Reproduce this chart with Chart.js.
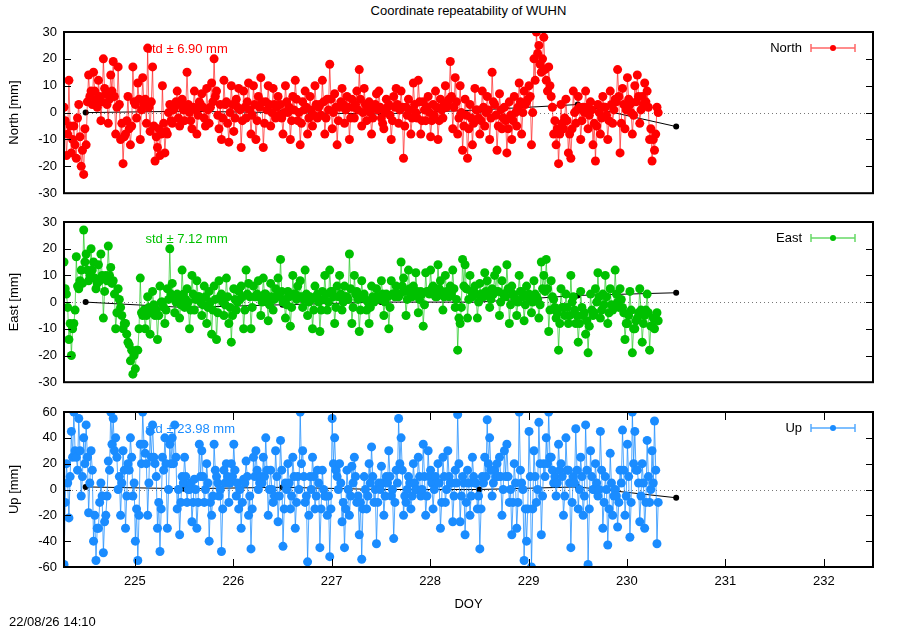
<!DOCTYPE html>
<html><head><meta charset="utf-8">
<script src="https://cdn.jsdelivr.net/npm/chart.js@4.4.0/dist/chart.umd.min.js"></script>
<style>
html,body{margin:0;padding:0;background:#fff;width:900px;height:630px;overflow:hidden;font-family:"Liberation Sans",Arial,sans-serif;color:#000;}
canvas{position:absolute;left:0;}
#title{position:absolute;left:0;width:937px;top:3px;text-align:center;font-size:13px;}
#stamp{position:absolute;left:9px;top:614px;font-size:13px;}
</style></head><body>
<div id="title">Coordinate repeatability of WUHN</div>
<canvas id="cN" width="900" height="208" style="top:0px"></canvas>
<canvas id="cE" width="900" height="197" style="top:200px"></canvas>
<canvas id="cU" width="900" height="240" style="top:390px"></canvas>
<div id="stamp">22/08/26 14:10</div>
<script>
// ---- data ----
const epochStart = 224.28;   // DOY of first epoch
const epochStep = 0.0125;    // sampling interval (day)

const northValues = [
 2,-3,-16,-8,12,-5,-15,-10, -5,-12,-17,-2,3,-9,-20,-14, -23,-6,-12,4,14,6,8,3,
 15,8,5,2,12,6,-3,4, 20,9,7,3,-4,5,14,8, 19,6,-8,2,17,3,-10,-4,
 -19,-9,-8,-3,6,-6,-12,-5, 17,4,3,-2,11,5,-10,1, 13,3,5,-4,24,2,-7,4,
 17,-5,-18,-9,-13,-6,-16,-8, 10,-4,-15,-7,-8,0,3,-3, -4,1,2,4,8,-2,-5,3,
 5,1,-3,2,15,3,0,-3, -6,2,8,1,-8,-1,4,3, 7,2,-2,-5,9,1,-4,2,
 11,4,20,6,8,-1,-6,3, -10,-2,12,3,4,-4,-11,0, 10,3,-7,-2,5,2,9,1,
 -13,-3,8,2,-2,4,11,1, -8,-1,10,3,-10,-3,6,2, 13,4,-13,-4,4,1,10,3,
 -5,0,9,3,-2,2,6,-1, 3,-2,-8,0,10,4,0,2, -10,-3,6,1,12,5,-3,0,
 -12,-4,4,1,8,2,-8,-2, 6,1,-5,-1,10,3,-2,2, 3,-1,12,4,-8,-2,5,1,
 18,5,-6,0,7,2,-12,-3, 2,4,9,3,-4,1,6,2, -10,-2,5,2,-2,3,8,1,
 16,5,-5,0,9,3,-3,1, 4,0,-8,-2,2,3,7,1, 8,2,-2,-4,-6,0,5,2,
 3,-1,-10,-3,6,2,9,3, -4,1,8,2,-17,-5,2,-1, 5,1,-8,-2,11,3,0,-2,
 12,4,-8,-3,4,1,-3,2, 6,0,-9,-3,3,-1,8,2, -10,-3,5,1,-2,3,10,2,
 4,5,19,6,-6,2,13,4, -8,-2,10,0,-14,-5,5,-1, -17,-6,3,-2,-12,-4,9,1,
 1,-2,-8,-3,8,2,-5,0, 6,1,-10,-2,15,4,3,-1, -14,-5,7,1,-6,-2,2,-3,
 -15,-6,4,-1,-10,-3,6,0, -5,2,11,4,-8,0,8,3, 4,5,10,6,-12,0,20,12,
 30,22,25,18,15,20,28,16, 12,8,17,10,6,2,-8,-3, -12,-6,-19,-8,3,-4,-6,-2,
 5,-3,-15,-8,-17,-6,8,0, -4,1,6,2,-10,-3,2,0, 8,2,-6,-1,4,1,-12,-4,
 -18,-5,3,0,-8,-2,6,2, 2,-1,-10,-3,8,3,-4,1, 5,4,16,6,-15,-4,9,3,
 -6,1,13,5,3,0,-8,-1, 10,4,14,6,-4,1,6,3, 11,4,8,2,-10,-6,-18,-10,
 -14,-8,2,0
];
const eastValues = [
 15,5,3,-2,-14,-8,-20,-10, -8,-3,17,6,5,8,12,7, 27,15,18,12,8,10,20,12,
 15,9,5,7,14,8,18,10, -6,4,10,8,21,10,13,7, 8,3,-10,-4,5,1,-2,-5,
 -10,-8,-8,-12,-15,-16,-22,-18, -27,-20,-25,-18,-18,-10,9,-4, -5,-3,-10,-5,2,-2,-12,-4,
 4,-1,-5,-3,-14,-5,6,0, 0,-2,-8,-3,5,1,20,3, 7,2,-4,0,3,1,-6,-1,
 12,3,-2,1,5,0,-10,-3, 10,3,-3,1,8,2,2,0, -5,-1,6,2,-8,-2,4,0,
 -12,-3,6,1,-14,-4,8,2, 3,0,-5,-1,9,2,-8,-2, -15,-5,5,1,-3,0,4,1,
 6,2,-10,-3,12,3,7,2, -10,-2,6,2,2,3,8,2, -5,0,9,3,3,1,-7,-1,
 7,2,-3,1,5,2,9,3, 16,4,0,1,-6,-1,4,2, -9,-2,10,3,3,1,6,2,
 8,2,-2,1,12,3,-5,0, 2,1,-10,-3,6,2,3,0, -11,-3,4,1,10,3,-3,0,
 12,4,4,2,-8,-2,6,2, 10,3,-3,0,6,2,2,1, 18,5,-8,-2,10,3,4,1,
 -11,-3,8,2,3,1,-3,0, -8,-2,6,2,0,1,5,2, 2,1,8,3,-5,0,3,2,
 -10,-2,8,3,3,2,6,3, 2,3,15,6,9,4,-5,1, 12,5,3,2,6,3,11,4,
 -4,1,4,3,-9,-1,11,4, 4,3,12,5,6,3,2,2, 14,5,8,4,-3,2,10,4,
 3,2,6,3,12,5,-2,1, -18,-6,-8,-2,16,6,14,5, -6,1,10,4,2,3,6,3,
 -6,0,7,3,3,2,11,4, 8,3,-2,1,5,3,10,4, 12,4,-5,0,8,3,3,2,
 14,5,-8,-1,6,3,2,1, -5,0,10,4,4,2,-7,-1, 6,2,3,1,-4,0,8,3,
 2,1,-6,-1,15,5,10,4, 16,5,-11,-3,8,2,1,-2, -6,-4,-18,-8,5,-2,-2,-5,
 3,-2,-8,-5,10,0,2,-3, -8,-5,-15,-8,4,-2,-5,-4, -12,-7,-19,-9,3,-3,-5,-4,
 5,0,11,2,-6,-3,3,-1, 10,2,-8,-4,5,-1,-3,-2, 12,3,0,-2,5,1,-2,-4,
 -14,-8,-8,-5,4,-3,-19,-10, -10,-7,-6,-4,5,-3,-15,-8, -5,-3,3,-4,-18,-9,-9,-6,
 -10,-6,-4,-7
];
const upValues = [
 -58,-10,20,5,-22,10,45,25, 60,30,25,15,55,30,-5,10, 40,20,50,25,-18,5,30,15,
 -40,-20,-55,-30,-30,-10,5,-5, -49,-25,-20,-5,22,15,60,35, 55,30,40,25,0,10,-20,5,
 30,15,-30,-5,20,15,40,25, -5,5,-40,-15,-55,-20,35,20, 60,35,28,20,-20,5,45,25,
 50,25,20,10,-30,-10,-48,-15, 25,15,40,20,-30,0,35,20, 40,20,50,25,-15,0,-35,-10,
 10,5,25,10,-10,0,0,5, -25,-10,8,0,-30,-10,35,10, 30,10,-10,0,20,5,-40,-10,
 -20,-5,35,15,10,5,-5,0, -48,-15,15,5,20,10,-10,5, 20,10,35,15,-5,5,-15,0,
 -30,-10,8,5,22,10,-20,-5, -46,-15,25,10,30,15,0,5, 10,5,25,10,40,15,-20,0,
 15,0,-10,-5,30,10,-25,-5, 38,15,-44,-15,5,0,20,5, -15,-5,25,10,-30,-10,10,0,
 60,20,30,10,-10,-5,-56,-20, 10,0,25,10,-15,-5,15,5, -45,-15,15,0,-5,-5,-20,-5,
 -52,-15,55,20,40,15,10,0, 20,5,-25,-10,-45,-15,15,0, -20,-5,18,5,25,10,-10,-5,
 -35,-10,-54,-15,10,0,-15,-5, 20,5,33,10,-10,0,-42,-10, 5,0,18,5,-20,-5,10,5,
 30,10,-5,0,-38,-10,15,5, 55,20,40,15,-20,-5,-10,0, 10,5,-15,-5,20,5,0,0,
 25,10,-5,0,35,10,-20,-5, 30,10,15,5,-15,0,10,5, 20,5,-30,-10,25,10,-10,0,
 30,10,5,5,-25,-5,15,5, 58,20,-25,-5,10,5,-35,-10, 15,5,-20,-5,25,10,5,5,
 -15,-5,-46,-15,10,5,25,10, 54,20,40,15,-5,5,15,10, 20,10,25,10,-20,0,30,10,
 35,10,-10,0,-35,-10,20,5, -30,-10,60,15,5,0,-55,-15, -40,-15,45,10,-60,-15,30,10,
 -10,0,52,20,-35,-5,20,10, 40,20,60,25,25,15,5,10, -5,5,35,15,20,10,-20,-5,
 40,15,15,5,-45,-10,10,5, 47,15,-15,0,25,10,-20,-5, 50,15,-58,-15,30,10,0,0,
 20,5,-5,0,45,15,-30,-10, 10,0,-43,-15,28,5,-20,-5, 0,-5,-29,-10,15,5,46,15,
 -20,-5,35,10,-37,-10,60,20, 45,15,15,5,-25,-5,20,5, -30,-10,38,10,-10,0,30,5,
 53,15,-42,-10
];
// daily (black) solutions
const dailyDays  = [224.5, 225.5, 226.5, 227.5, 228.5, 229.5, 230.5];
const dailyNorth = [0, 0.5, 0, -0.5, 1, 3, -5.2];
const dailyEast  = [0, -2, -1, 0, 0, 2.5, 3.5];
const dailyUp    = [2, 0.6, 1.7, 0, 0, 2, -6.4];

const xTicks  = [225, 226, 227, 228, 229, 230, 231, 232];
const neTicks = [-30, -20, -10, 0, 10, 20, 30];
const upTicks = [-60, -40, -20, 0, 20, 40, 60];
const stdLabels = ['std \u00b1 6.90 mm', 'std \u00b1 7.12 mm', 'std \u00b1 23.98 mm'];
const seriesNames = ['North', 'East', 'Up'];
const axisTitles = ['North [mm]', 'East [mm]', 'Up [mm]'];
const seriesColors = ['#ff0000', '#00c000', '#1a8cff'];
const lineColors = ['rgba(255,0,0,0.6)', 'rgba(0,192,0,0.6)', 'rgba(26,140,255,0.75)'];

// ---- drawing ----
const FONT = '"Liberation Sans", Arial, sans-serif';
const toPts = vals => vals.map((v, i) => ({x: epochStart + i * epochStep, y: v}));
const dailyPts = vals => vals.map((v, i) => ({x: dailyDays[i], y: v}));

const deco = {
  id: 'deco',
  beforeDatasetsDraw(chart, args, o) {
    const {ctx, chartArea: a, scales: {y}} = chart;
    ctx.save();
    const y0 = Math.round(y.getPixelForValue(0)) + 0.5;
    ctx.strokeStyle = '#777'; ctx.lineWidth = 1; ctx.setLineDash([1, 3]);
    ctx.beginPath(); ctx.moveTo(a.left, y0); ctx.lineTo(a.right, y0); ctx.stroke();
    ctx.setLineDash([]);
    ctx.fillStyle = o.color; ctx.font = '13px ' + FONT;
    ctx.textBaseline = 'middle'; ctx.textAlign = 'left';
    ctx.fillText(o.std, a.left + 81.5, a.top + 17);
    ctx.restore();
  },
  afterDatasetsDraw(chart, args, o) {
    const {ctx, chartArea: a, scales: {x, y}} = chart;
    ctx.save();
    ctx.strokeStyle = '#000'; ctx.lineWidth = 1;
    ctx.beginPath();
    o.yTicks.forEach(v => {
      const p = Math.round(y.getPixelForValue(v)) + 0.5;
      ctx.moveTo(a.left, p); ctx.lineTo(a.left + 7, p);
      ctx.moveTo(a.right, p); ctx.lineTo(a.right - 7, p);
    });
    if (o.showX) {
      xTicks.forEach(v => {
        const p = Math.round(x.getPixelForValue(v)) + 0.5;
        ctx.moveTo(p, a.bottom); ctx.lineTo(p, a.bottom - 8);
        ctx.moveTo(p, a.top); ctx.lineTo(p, a.top + 8);
      });
    }
    ctx.stroke();
    ctx.lineWidth = 2;
    ctx.strokeRect(a.left, a.top, a.right - a.left, a.bottom - a.top);
    // key
    const ly = a.top + 16;
    ctx.fillStyle = '#000'; ctx.font = '13px ' + FONT;
    ctx.textAlign = 'right'; ctx.textBaseline = 'middle';
    ctx.fillText(o.name, 802, ly);
    ctx.strokeStyle = o.line; ctx.lineWidth = 1.5;
    ctx.beginPath();
    ctx.moveTo(811, ly); ctx.lineTo(855, ly);
    ctx.moveTo(811, ly - 4); ctx.lineTo(811, ly + 4);
    ctx.moveTo(855, ly - 4); ctx.lineTo(855, ly + 4);
    ctx.stroke();
    ctx.fillStyle = o.color;
    ctx.beginPath(); ctx.arc(833, ly, 3, 0, Math.PI * 2); ctx.fill();
    ctx.restore();
  }
};

function makePanel(id, idx, values, daily, yMin, yMax, yTicks, showX, pad) {
  const color = seriesColors[idx];
  new Chart(document.getElementById(id), {
    type: 'line',
    data: {
      datasets: [
        {data: toPts(values), borderColor: lineColors[idx], borderWidth: 1,
         pointRadius: 4.5, pointBackgroundColor: color, pointBorderWidth: 0,
         pointStyle: 'circle', order: 0, tension: 0},
        {data: dailyPts(daily), borderColor: '#000', borderWidth: 1, pointRadius: 0, order: 2},
        {data: dailyPts(daily), showLine: false, pointRadius: 3, pointBackgroundColor: '#000',
         pointBorderWidth: 0, order: 1}
      ]
    },
    options: {
      responsive: false, animation: false, devicePixelRatio: 1,
      events: [],
      layout: {padding: pad},
      plugins: {
        legend: {display: false}, tooltip: {enabled: false},
        deco: {color: color, line: lineColors[idx], std: stdLabels[idx], name: seriesNames[idx],
               yTicks: yTicks, showX: showX}
      },
      scales: {
        x: {
          type: 'linear', min: 224.28, max: 232.5, display: showX,
          afterBuildTicks: s => { s.ticks = xTicks.map(v => ({value: v})); },
          afterFit: s => { s.height = showX ? 45 : 0; },
          grid: {display: false, drawTicks: false}, border: {display: false},
          ticks: {color: '#000', padding: 7, font: {family: FONT, size: 13}, callback: v => String(v)},
          title: {display: showX, text: 'DOY', color: '#000', font: {family: FONT, size: 13},
                  padding: {top: 4, bottom: 0}}
        },
        y: {
          type: 'linear', min: yMin, max: yMax,
          afterBuildTicks: s => { s.ticks = yTicks.map(v => ({value: v})); },
          afterFit: s => { s.width = 64; },
          grid: {display: false, drawTicks: false}, border: {display: false},
          ticks: {color: '#000', padding: 7, font: {family: FONT, size: 13}, callback: v => String(v)},
          title: {display: true, text: axisTitles[idx], color: '#000', font: {family: FONT, size: 13},
                  padding: {top: 7, bottom: 0}}
        }
      }
    },
    plugins: [deco]
  });
}

makePanel('cN', 0, northValues, dailyNorth, -30, 30, neTicks, false, {top: 32, bottom: 0, left: 0, right: 27});
makePanel('cE', 1, eastValues, dailyEast, -30, 30, neTicks, false, {top: 22, bottom: 0, left: 0, right: 27});
makePanel('cU', 2, upValues, dailyUp, -60, 60, upTicks, true, {top: 22, bottom: 18, left: 0, right: 27});
</script>
</body></html>
